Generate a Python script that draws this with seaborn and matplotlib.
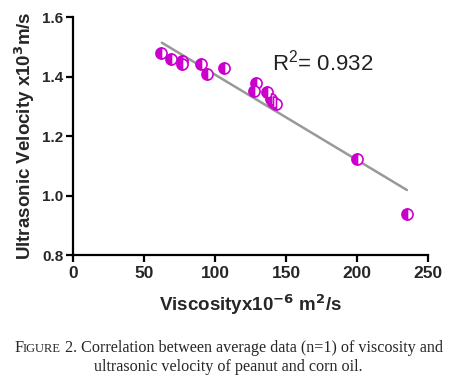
import numpy as np
import pandas as pd
import matplotlib
matplotlib.use("Agg")
import matplotlib.pyplot as plt
import seaborn as sns
from matplotlib.offsetbox import TextArea, HPacker, AnnotationBbox

viscosity = [62, 69, 77, 77, 90, 94, 106, 129, 127, 136.5, 139, 141, 142.5, 200, 235]
velocity = [1.480, 1.459, 1.453, 1.442, 1.442, 1.409, 1.429, 1.380, 1.351, 1.350, 1.324, 1.314, 1.308, 1.122, 0.940]
fit_x = [62.5, 235]
fit_y = [1.514, 1.019]
x_ticks = [0, 50, 100, 150, 200, 250]
y_ticks = [0.8, 1.0, 1.2, 1.4, 1.6]
r2_label = "R$^2$= 0.932"

sns.set_style("ticks")
plt.rcParams['font.family'] = ['Liberation Sans', 'DejaVu Sans']
plt.rcParams['mathtext.default'] = 'regular'

df = pd.DataFrame({"visc": viscosity, "vel": velocity})
fig = plt.figure(figsize=(4.57, 3.89), dpi=100)
ax = fig.add_axes([0.160, 0.344, 0.777, 0.612])

sns.lineplot(x=fit_x, y=fit_y, ax=ax, color="#999999", linewidth=1.8, zorder=1)
ax.plot(df["visc"], df["vel"], linestyle="none", marker="o", markersize=8,
        fillstyle="left", color="#cc00cc", markerfacecoloralt="white",
        markeredgecolor="#cc00cc", markeredgewidth=1.2, zorder=2)

ax.set_xlim(0, 250)
ax.set_ylim(0.8, 1.6)
ax.set_xticks(x_ticks)
ax.set_yticks(y_ticks)
ax.set_xticklabels([str(t) for t in x_ticks], fontweight="bold", fontsize=12.5)
ax.set_yticklabels([f"{t:.1f}" for t in y_ticks], fontweight="bold", fontsize=11)
sns.despine(ax=ax)
for s in ["left", "bottom"]:
    ax.spines[s].set_linewidth(1.6)
    ax.spines[s].set_color("black")
ax.tick_params(axis="both", width=1.6, length=5, color="black", pad=2)
ax.tick_params(axis="x", pad=3)

ax.set_xlabel("Viscosityx10$^{\\mathbf{-6}}$ m$^{\\mathbf{2}}$/s", fontweight="bold", fontsize=13.5, labelpad=8)
ax.set_ylabel("Ultrasonic Velocity x10$^{\\mathbf{3}}$m/s", fontweight="bold", fontsize=13.5, labelpad=4)

ax.text(0.56, 0.81, r2_label, transform=ax.transAxes, fontsize=16, color="#222222", ha="left", va="center")

serif = ['Liberation Serif', 'DejaVu Serif']
parts = [TextArea("F", textprops=dict(family=serif, size=11.6)),
         TextArea("IGURE", textprops=dict(family=serif, size=9)),
         TextArea(" 2. Correlation between average data (n=1) of viscosity and",
                  textprops=dict(family=serif, size=11.6))]
box = HPacker(children=parts, align="baseline", pad=0, sep=0)
ab = AnnotationBbox(box, (0.5, 1 - 348 / 389), xycoords="figure fraction", frameon=False,
                    box_alignment=(0.5, 0.5))
fig.add_artist(ab)
fig.text(0.5, 1 - 367 / 389, "ultrasonic velocity of peanut and corn oil.", family=serif, size=11.6,
         ha="center", va="center")

fig.savefig("out.png", dpi=100)
